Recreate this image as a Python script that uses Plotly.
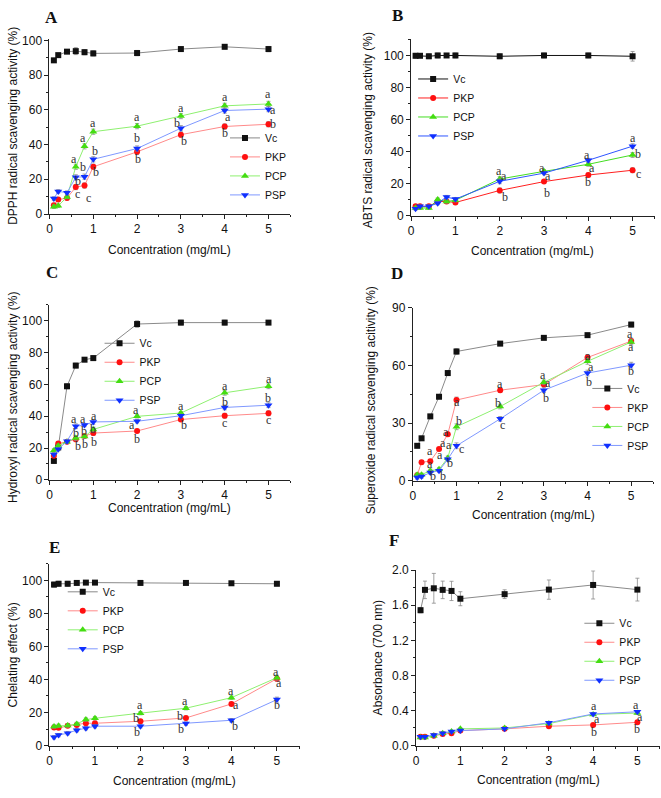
import plotly.graph_objects as go

W, H = 661, 798

# ---------------- data ----------------
conc = [0.1, 0.2, 0.4, 0.6, 0.8, 1, 2, 3, 4, 5]
series_names = ["Vc", "PKP", "PCP", "PSP"]
x_ticks = [0, 1, 2, 3, 4, 5]

# A  DPPH
dpph_vc = [88.5, 91.5, 93.5, 93.8, 93.2, 92.5, 92.7, 95.0, 96.3, 95.0]
dpph_pkp = [5.1, 8.3, 9.2, 15.5, 16.4, 27.2, 35.8, 45.7, 50.4, 51.7]
dpph_pcp = [4.2, 4.7, 9.8, 27.2, 39.0, 47.4, 50.6, 56.4, 62.3, 63.4]
dpph_psp = [8.9, 13.0, 12.3, 21.1, 21.5, 31.5, 37.7, 49.4, 59.6, 60.4]
dpph_err_vc = [0.8, 0.8, 1.0, 2.0, 1.5, 1.5, 1.5, 1.0, 1.2, 1.5]
dpph_err = [1.0, 1.0, 1.0, 1.5, 1.5, 1.5, 1.5, 1.5, 1.5, 1.5]
dpph_letters = [(0.55, 31.5, "a"), (0.77, 27, "b"), (0.66, 19, "b"), (0.65, 11.5, "c"),
                (0.76, 44, "a"), (0.88, 9.5, "c"), (1.0, 52.5, "a"), (1.03, 36, "b"),
                (1.07, 24.0, "b"), (2.0, 56, "a"), (2.0, 43.8, "b"), (2.03, 31.9, "b"),
                (3.0, 60.8, "a"), (2.92, 52.3, "b"), (3.06, 42.3, "b"), (4.0, 67.4, "a"),
                (4.08, 55.7, "a"), (4.0, 46.6, "b"), (5.0, 69.2, "a"), (5.1, 59.8, "a"),
                (5.11, 51.7, "b")]

# B  ABTS
abts_vc = [99.8, 99.8, 99.5, 100.0, 100.0, 100.0, 99.5, 100.0, 100.0, 99.5]
abts_pkp = [6.0, 6.0, 6.0, 9.0, 9.0, 8.4, 15.9, 21.4, 25.5, 28.5]
abts_pcp = [5.0, 5.0, 5.0, 10.2, 9.0, 9.8, 23.0, 27.8, 32.2, 38.0]
abts_psp = [4.5, 6.0, 6.0, 8.0, 11.8, 10.5, 21.6, 26.7, 34.7, 43.5]
abts_err_vc = [1.5, 1.0, 1.5, 1.5, 1.0, 1.5, 1.5, 1.5, 1.5, 3.0]
abts_err = [0.8, 0.8, 0.8, 1.0, 1.0, 1.0, 1.5, 1.0, 1.2, 1.5]
abts_letters = [(1.99, 28.2, "a"), (2.1, 24.6, "a"), (2.11, 11.8, "b"), (2.96, 30.2, "a"),
                (3.1, 24.6, "a"), (3.07, 14.3, "b"), (3.97, 38, "a"), (4.09, 30.0, "a"),
                (4.0, 21, "b"), (5.0, 48.6, "a"), (5.13, 38.4, "b"), (5.13, 26.1, "c")]

# C  Hydroxyl
oh_vc = [11.9, 20.4, 58.8, 71.8, 75.5, 76.5, 97.9, 98.8, 98.8, 98.8]
oh_pkp = [15.2, 22.8, 23.9, 25.5, 27.6, 29.4, 30.7, 37.9, 40.3, 41.8]
oh_pcp = [18.5, 21.4, 23.9, 26.3, 27.2, 31.7, 39.9, 42.0, 54.7, 58.8]
oh_psp = [16.0, 19.3, 24.3, 33.7, 34.4, 36.4, 36.8, 40.3, 45.5, 46.9]
oh_err_vc = [1.5, 1.5, 1.5, 1.5, 1.0, 1.5, 2.0, 1.5, 1.5, 1.0]
oh_err = [1.0, 1.0, 1.0, 1.5, 1.0, 1.5, 1.0, 1.0, 1.5, 1.5]
oh_letters = [(0.57, 38.2, "a"), (0.61, 29.2, "b"), (0.64, 21.0, "b"), (0.76, 38.4, "a"),
              (0.78, 30.5, "b"), (0.82, 22.5, "b"), (1.02, 39.9, "a"), (1.0, 32.1, "b"),
              (1.02, 24.0, "b"), (1.97, 44, "a"), (1.88, 34.2, "a"), (2.0, 25.5, "b"),
              (3.0, 46.5, "a"), (3.07, 34.4, "b"), (4.0, 58.8, "a"), (4.0, 49.2, "b"),
              (4.0, 35.8, "c"), (5.02, 63.2, "a"), (4.98, 51.6, "b"), (5.0, 37.9, "c")]

# D  Superoxide
so_vc = [18.2, 22.1, 33.5, 43.7, 56.0, 67.2, 71.3, 74.3, 75.7, 81.2]
so_pkp = [2.9, 9.7, 10.2, 16.5, 24.2, 42.0, 47.1, 50.0, 64.1, 72.6]
so_pcp = [3.2, 3.2, 5.3, 6.0, 11.9, 28.1, 38.6, 51.2, 62.1, 72.1]
so_psp = [1.7, 2.2, 4.3, 5.3, 11.2, 18.2, 32.2, 47.1, 56.0, 60.1]
so_err_vc = [1.0, 1.0, 1.0, 1.0, 1.0, 1.5, 1.0, 1.0, 1.0, 1.2]
so_err = [0.8, 0.8, 0.8, 0.8, 1.0, 1.5, 1.2, 1.2, 1.5, 1.5]
so_letters = [(0.4, 15.5, "a"), (0.4, 8.8, "a"), (0.46, 2.3, "b"), (0.68, 19.5, "a"),
              (0.63, 13.5, "a"), (0.68, 2.3, "b"), (0.76, 25.2, "a"), (0.82, 18.6, "a"),
              (0.86, 9.4, "b"), (1.01, 41.2, "a"), (1.06, 31.0, "b"), (1.12, 16.5, "c"),
              (1.99, 50.2, "a"), (1.95, 40.7, "b"), (2.05, 28.9, "c"), (2.99, 54.8, "a"),
              (3.09, 50.9, "a"), (3.04, 43.2, "b"), (4.0, 64.8, "a"), (4.08, 59.0, "a"),
              (4.03, 51.6, "b"), (4.98, 76.4, "a"), (5.0, 69.8, "a"), (5.0, 57.3, "b")]

# E  Chelating
ch_vc = [97.5, 98.0, 98.0, 98.5, 98.7, 98.7, 98.5, 98.5, 98.3, 98.0]
ch_pkp = [10.9, 10.7, 11.9, 12.5, 13.5, 13.5, 14.7, 16.7, 25.2, 40.5]
ch_pcp = [11.5, 11.9, 12.1, 13.1, 15.7, 16.5, 19.6, 22.6, 29.0, 41.1]
ch_psp = [5.0, 6.3, 7.5, 9.3, 10.5, 11.7, 11.7, 13.3, 15.3, 27.8]
ch_err_vc = [1.5, 1.5, 1.5, 1.0, 1.0, 1.0, 0.8, 0.8, 0.8, 1.2]
ch_err = [1.0, 1.0, 1.0, 1.0, 1.0, 1.0, 1.0, 1.0, 1.0, 1.5]
ch_letters = [(1.98, 24.8, "a"), (1.91, 16.4, "b"), (1.93, 8.0, "b"), (2.99, 26.8, "a"),
              (2.88, 17.9, "b"), (2.9, 9.9, "b"), (3.99, 33.3, "a"), (4.1, 24.6, "a"),
              (4.08, 11.9, "b"), (4.98, 44.6, "a"), (5.05, 37.7, "a"), (5.01, 24.4, "b")]

# F  Reducing power
rp_vc = [1.544, 1.776, 1.794, 1.776, 1.764, 1.675, 1.727, 1.779, 1.832, 1.779]
rp_pkp = [0.10, 0.10, 0.11, 0.13, 0.14, 0.17, 0.19, 0.22, 0.235, 0.265]
rp_pcp = [0.09, 0.09, 0.11, 0.14, 0.16, 0.19, 0.20, 0.25, 0.355, 0.37]
rp_psp = [0.10, 0.10, 0.12, 0.14, 0.16, 0.17, 0.19, 0.26, 0.36, 0.385]
rp_err_vc = [0.03, 0.10, 0.17, 0.10, 0.11, 0.08, 0.05, 0.11, 0.16, 0.13]
rp_err = [0.01, 0.01, 0.01, 0.01, 0.01, 0.01, 0.01, 0.01, 0.015, 0.015]
rp_letters = [(4.01, 0.452, "a"), (4.09, 0.298, "a"), (4.03, 0.152, "b"),
              (4.96, 0.468, "a"), (5.05, 0.328, "a"), (5.0, 0.19, "b")]

# ---------------- styles ----------------
SANS = "Liberation Sans, Arial, sans-serif"
SERIF = "Liberation Serif, Times New Roman, serif"
AX = "#222222"

marker_style = {
    "Vc": dict(symbol="square", color="#111111", size=6),
    "PKP": dict(symbol="circle", color="#ff1010", size=6),
    "PCP": dict(symbol="triangle-up", color="#44dd11", size=7),
    "PSP": dict(symbol="triangle-down", color="#1030ff", size=7),
}
light_lines = {"Vc": "#8a8a8a", "PKP": "#ff8a8a", "PCP": "#8ef070", "PSP": "#7f98ff"}
dark_lines = {"Vc": "#111111", "PKP": "#ff2020", "PCP": "#44dd22", "PSP": "#2f55ff"}

# leg = (x where legend text starts, y of first legend row) in page pixels
panels = [
    dict(label="A", vals=[dpph_vc, dpph_pkp, dpph_pcp, dpph_psp], err_vc=dpph_err_vc, err=dpph_err,
         letters=dpph_letters, ytitle="DPPH radical scavenging activity (%)",
         yrange=[0, 101], dtick=20, box=(46.7, 288.7, 32.2, 210.7), lines=light_lines,
         lab=(49, 11), ytp=(10, 121), xtp=(167.5, 247), leg=(263, 138)),
    dict(label="B", vals=[abts_vc, abts_pkp, abts_pcp, abts_psp], err_vc=abts_err_vc, err=abts_err,
         letters=abts_letters, ytitle="ABTS radical scavenging activity (%)",
         yrange=[0, 110], dtick=20, box=(410, 654.7, 33, 212.7), lines=dark_lines,
         lab=(396, 9), ytp=(366, 125), xtp=(531.7, 248), leg=(452, 78)),
    dict(label="C", vals=[oh_vc, oh_pkp, oh_pcp, oh_psp], err_vc=oh_err_vc, err=oh_err,
         letters=oh_letters, ytitle="Hydroxyl radical scavenging activity (%)",
         yrange=[0, 110], dtick=20, box=(46.7, 288.7, 303.1, 481.3), lines=light_lines,
         lab=(49, 270), ytp=(10, 397), xtp=(167.5, 510), leg=(137, 347)),
    dict(label="D", vals=[so_vc, so_pkp, so_pcp, so_psp], err_vc=so_err_vc, err=so_err,
         letters=so_letters, ytitle="Superoxide radical scavenging acitivity (%)",
         yrange=[0, 90], dtick=30, box=(411.7, 653, 306, 482.3), lines=light_lines,
         lab=(396, 271), ytp=(370, 400), xtp=(532.5, 516.7), leg=(627, 393)),
    dict(label="E", vals=[ch_vc, ch_pkp, ch_pcp, ch_psp], err_vc=ch_err_vc, err=ch_err,
         letters=ch_letters, ytitle="Chelating effect (%)",
         yrange=[0, 110], dtick=20, box=(46.7, 298, 566.9, 751.7), lines=light_lines,
         lab=(52, 550), ytp=(10, 659), xtp=(172.5, 788), leg=(100, 600)),
    dict(label="F", vals=[rp_vc, rp_pkp, rp_pcp, rp_psp], err_vc=rp_err_vc, err=rp_err,
         letters=rp_letters, ytitle="Absorbance (700 nm)",
         yrange=[0, 2.0], dtick=0.4, box=(415, 659.5, 573.3, 751.7), lines=light_lines,
         lab=(393, 543), ytp=(376.7, 662), xtp=(537.5, 787), leg=(619, 632)),
]


def px(x):
    return x / W


def py(y):
    return 1 - y / H


fig = go.Figure()
annotations = []
layout = dict(width=W, height=H, margin=dict(l=0, r=0, t=0, b=0),
              paper_bgcolor="white", plot_bgcolor="white", showlegend=True)

for i, p in enumerate(panels):
    n = i + 1
    xa = "x" if n == 1 else f"x{n}"
    ya = "y" if n == 1 else f"y{n}"
    legname = "legend" if n == 1 else f"legend{n}"
    x0, x1, yt, yb = p["box"]
    for k, name in enumerate(series_names):
        errs = p["err_vc"] if name == "Vc" else p["err"]
        fig.add_trace(go.Scatter(
            x=conc, y=p["vals"][k], name=name, mode="lines+markers",
            xaxis=xa, yaxis=ya, legend=legname,
            line=dict(color=p["lines"][name], width=1),
            marker=dict(symbol=marker_style[name]["symbol"], color=marker_style[name]["color"],
                        size=marker_style[name]["size"], line=dict(width=0)),
            error_y=dict(type="data", array=errs, visible=True, color="#8a8a8a",
                         thickness=0.8, width=2),
            cliponaxis=False,
        ))
    axis_common = dict(showline=True, linecolor=AX, linewidth=1, ticks="outside", ticklen=4,
                       tickcolor=AX, tickwidth=1, showgrid=False, zeroline=False,
                       tickfont=dict(family=SANS, size=12, color="#111111"))
    layout["xaxis" if n == 1 else f"xaxis{n}"] = dict(
        domain=[px(x0), px(x1)], range=[0, 5.5], anchor=ya, tickmode="array", tickvals=x_ticks,
        minor=dict(ticks="outside", ticklen=2, tickvals=[0.5, 1.5, 2.5, 3.5, 4.5, 5.5],
                   tickcolor=AX, showgrid=False),
        **axis_common)
    dt = p["dtick"]
    layout["yaxis" if n == 1 else f"yaxis{n}"] = dict(
        domain=[py(yb), py(yt)], range=p["yrange"], anchor=xa, dtick=dt, tick0=0,
        tickformat=".1f" if dt < 1 else "d",
        minor=dict(ticks="outside", ticklen=2, dtick=dt / 2, tickcolor=AX, showgrid=False),
        **axis_common)
    lx, ly = p["leg"]
    layout[legname] = dict(x=px(lx - 40), y=py(ly - 19.5), xanchor="left", yanchor="top",
                           bgcolor="rgba(0,0,0,0)", borderwidth=0,
                           font=dict(family=SANS, size=10.5, color="#111111"),
                           tracegroupgap=0, itemwidth=30)
    # significance letters
    for (lxv, lyv, t) in p["letters"]:
        annotations.append(dict(x=lxv, y=lyv, xref=xa, yref=ya, text=t, showarrow=False,
                                font=dict(family=SERIF, size=12, color="#333333"),
                                xanchor="center", yanchor="middle"))
    # panel label
    annotations.append(dict(x=px(p["lab"][0]), y=py(p["lab"][1]), xref="paper", yref="paper",
                            text=f"<b>{p['label']}</b>", showarrow=False,
                            font=dict(family=SERIF, size=17, color="#111111"),
                            xanchor="center", yanchor="middle"))
    # axis titles
    annotations.append(dict(x=px(p["ytp"][0]), y=py(p["ytp"][1]), xref="paper", yref="paper",
                            text=p["ytitle"], textangle=-90, showarrow=False,
                            font=dict(family=SANS, size=12, color="#111111"),
                            xanchor="center", yanchor="middle"))
    annotations.append(dict(x=px(p["xtp"][0]), y=py(p["xtp"][1]), xref="paper", yref="paper",
                            text="Concentration (mg/mL)", showarrow=False,
                            font=dict(family=SANS, size=12, color="#111111"),
                            xanchor="center", yanchor="middle"))

layout["annotations"] = annotations
fig.update_layout(**layout)
fig.write_html("out.html")
